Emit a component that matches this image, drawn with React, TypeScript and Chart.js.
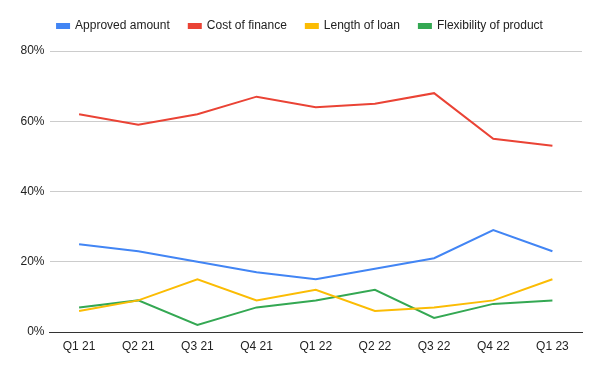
import React, { useEffect, useRef } from "react";
import { Chart, registerables } from "chart.js";

Chart.register(...registerables);

const categories = ["Q1 21", "Q2 21", "Q3 21", "Q4 21", "Q1 22", "Q2 22", "Q3 22", "Q4 22", "Q1 23"];
const approvedAmount = [25, 23, 20, 17, 15, 18, 21, 29, 23];
const costOfFinance = [62, 59, 62, 67, 64, 65, 68, 55, 53];
const lengthOfLoan = [6, 9, 15, 9, 12, 6, 7, 9, 15];
const flexibilityOfProduct = [7, 9, 2, 7, 9, 12, 4, 8, 9];
const yTicks = [0, 20, 40, 60, 80];

const FONT = "'Liberation Sans', Arial, sans-serif";

const legendMargin = {
  id: "legendMargin",
  beforeInit(chart: any) {
    const legend = chart.legend;
    const origFit = legend.fit;
    legend.fit = function () {
      origFit.call(legend);
      legend.height += 9;
    };
  },
  beforeDraw(chart: any) {
    const legend = chart.legend;
    legend.left = 0;
    legend.right = chart.width;
    legend.width = chart.width;
  },
};

export default function App() {
  const ref = useRef<HTMLCanvasElement>(null);
  useEffect(() => {
    document.body.style.margin = "0";
    const mk = (label: string, data: number[], color: string) => ({
      label,
      data,
      borderColor: color,
      backgroundColor: color,
      borderWidth: 2,
      pointRadius: 0,
      pointHoverRadius: 0,
      tension: 0,
      fill: false,
    });
    const chart = new Chart(ref.current!, {
      type: "line",
      data: {
        labels: categories,
        datasets: [
          mk("Approved amount", approvedAmount, "#4285F4"),
          mk("Cost of finance", costOfFinance, "#EA4335"),
          mk("Length of loan", lengthOfLoan, "#FBBC04"),
          mk("Flexibility of product", flexibilityOfProduct, "#34A853"),
        ],
      },
      plugins: [legendMargin],
      options: {
        animation: false,
        responsive: false,
        layout: { padding: { left: 0, right: 18, top: 1, bottom: 0 } },
        plugins: {
          tooltip: { enabled: false },
          legend: {
            position: "top",
            labels: {
              boxWidth: 12,
              boxHeight: 4,
              padding: 19,
              color: "#222",
              font: { family: FONT, size: 12 },
            },
          },
        },
        scales: {
          x: {
            offset: true,
            grid: { display: false, drawTicks: false },
            border: { color: "#333", width: 1 },
            ticks: { color: "#222", font: { family: FONT, size: 12 }, padding: 7, maxRotation: 0 },
            afterFit: (s: any) => { s.height = 39; },
          },
          y: {
            min: 0,
            max: 80,
            afterBuildTicks: (s: any) => { s.ticks = yTicks.map((v) => ({ value: v })); },
            grid: { color: "#cccccc", drawTicks: false },
            border: { display: false },
            ticks: {
              color: "#222",
              font: { family: FONT, size: 12 },
              padding: 5,
              callback: (v: any) => v + "%",
            },
            afterFit: (s: any) => { s.width = 49.5; },
          },
        },
      },
    });
    return () => chart.destroy();
  }, []);
  return (
    <div style={{ width: 600, height: 371, position: "relative", background: "#fff" }}>
      <canvas ref={ref} width={600} height={371} />
    </div>
  );
}
